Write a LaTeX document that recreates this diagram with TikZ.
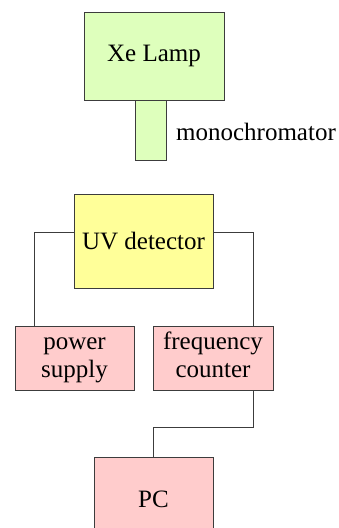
\documentclass[tikz,border=0pt]{standalone}
\usepackage{fontspec}
\setmainfont{Liberation Serif}
\usetikzlibrary{positioning}

\definecolor{lampgreen}{RGB}{222,255,188}
\definecolor{detyellow}{RGB}{255,255,153}
\definecolor{unitpink}{RGB}{255,204,204}
\definecolor{edgegray}{RGB}{60,60,60}

\begin{document}
\begin{tikzpicture}[
    x=1pt, y=1pt,
    font=\rmfamily\fontsize{25}{28}\selectfont,
    box/.style={rectangle, draw=edgegray, line width=0.9pt, inner sep=0pt, align=center},
    lampbox/.style={box, fill=lampgreen},
    detbox/.style={box, fill=detyellow},
    unitbox/.style={box, fill=unitpink, minimum height=64pt},
    wire/.style={draw=edgegray, line width=0.9pt}
]
\useasboundingbox (0,0) rectangle (339,528);

% Light source
\node[lampbox, minimum width=140pt, minimum height=88pt] (Lamp) at (154,472) {Xe Lamp};
\node[lampbox, minimum width=31pt, minimum height=60pt, below=0pt of Lamp.south, xshift=-3pt, anchor=north] (Mono) {};
\node[right=9pt of Mono, yshift=-1pt, inner sep=0pt] (MonoLabel) {monochromator};

% Detector
\node[detbox, minimum width=139pt, minimum height=94pt] (Detector) at (143.5,287) {UV detector};

% Units below the detector
\node[unitbox, minimum width=119pt] (Supply) at (74.5,170) {\strut power\\\strut supply};
\node[unitbox, minimum width=120pt] (Counter) at (213,170) {\strut frequency\\\strut counter};
\node[box, fill=unitpink, minimum width=119pt, minimum height=83pt, anchor=north] (PC) at (153.5,71) {\raisebox{-8pt}{PC}};

% Wiring
\draw[wire] ([yshift=9pt]Detector.west) -| ([xshift=-40.5pt]Supply.north);
\draw[wire] ([yshift=9pt]Detector.east) -| ([xshift=40pt]Counter.north);
\draw[wire] ([xshift=40pt]Counter.south) -- ++(0,-37) -| (PC.north);

\end{tikzpicture}
\end{document}
